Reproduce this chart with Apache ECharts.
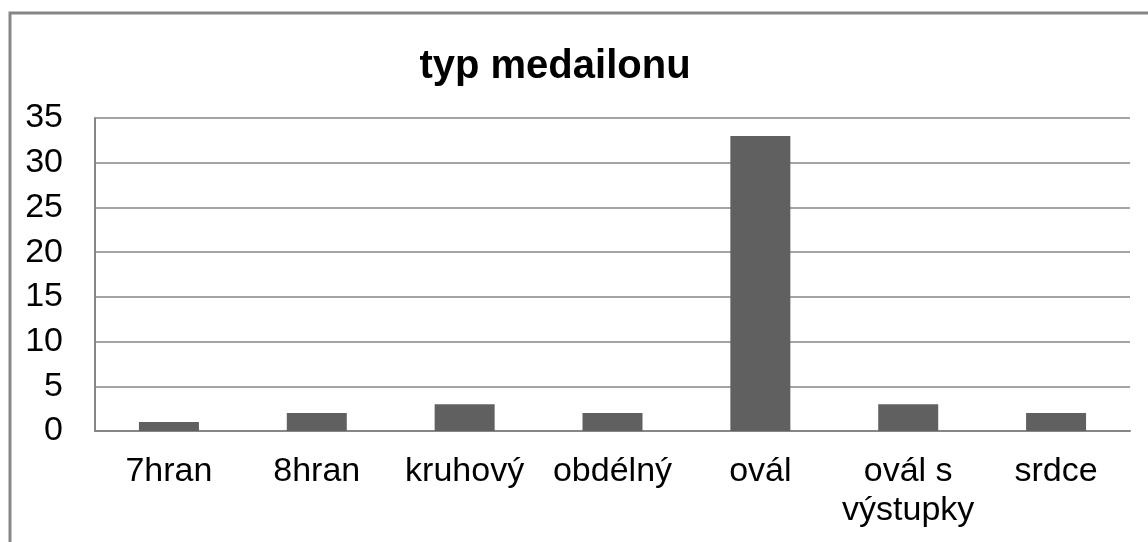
<!DOCTYPE html>
<html>
<head>
<meta charset="utf-8">
<script src="https://cdn.jsdelivr.net/npm/echarts@6/dist/echarts.min.js"></script>
<style>
  html, body { margin: 0; padding: 0; background: #fff; }
  #chart { width: 1148px; height: 542px; }
</style>
</head>
<body>
<div id="chart"></div>
<script>
// typ medailonu - počty
const categories = ['7hran', '8hran', 'kruhový', 'obdélný', 'ovál', 'ovál s\nvýstupky', 'srdce']
const counts = [1, 2, 3, 2, 33, 3, 2]
const yTicks = [0, 5, 10, 15, 20, 25, 30, 35]

const chart = echarts.init(document.getElementById('chart'))

const option = {
  backgroundColor: '#fff',
  animation: false,
  title: {
    text: 'typ medailonu',
    left: 550,
    top: 42,
    textAlign: 'center',
    textStyle: {
      fontFamily: 'Liberation Sans',
      fontSize: 40,
      fontWeight: 'bold',
      color: '#000'
    }
  },
  graphic: [{
    type: 'rect',
    shape: { x: 10, y: 13, width: 2000, height: 1000 },
    style: { fill: 'none', stroke: '#868686', lineWidth: 3 },
    silent: true
  }],
  grid: { left: 95, right: 18, top: 118, bottom: 111 },
  xAxis: {
    type: 'category',
    data: categories,
    axisLine: { show: true, lineStyle: { color: '#868686', width: 2 } },
    axisTick: { show: false },
    axisLabel: {
      interval: 0,
      margin: 21,
      fontFamily: 'Liberation Sans',
      fontSize: 34,
      lineHeight: 39,
      color: '#000'
    }
  },
  yAxis: {
    type: 'value',
    min: yTicks[0],
    max: yTicks[yTicks.length - 1],
    interval: 5,
    axisLine: { show: true, lineStyle: { color: '#868686', width: 2 } },
    axisTick: { show: false },
    splitLine: { lineStyle: { color: '#868686', width: 1.5 } },
    axisLabel: {
      margin: 32,
      fontFamily: 'Liberation Sans',
      fontSize: 34,
      color: '#000'
    }
  },
  series: [{
    type: 'bar',
    data: counts,
    barWidth: 60,
    itemStyle: { color: '#606060' }
  }]
}
chart.setOption(option)
</script>
</body>
</html>
